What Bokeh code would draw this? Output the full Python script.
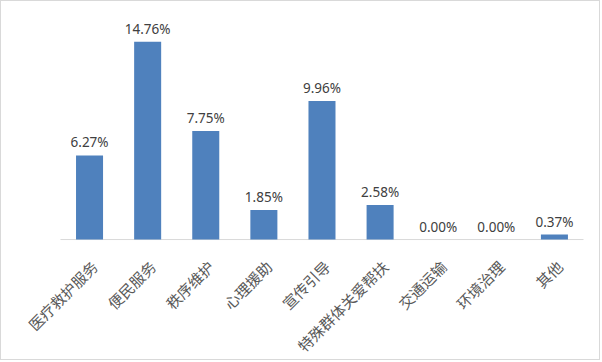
import math
from bokeh.plotting import figure
from bokeh.models import ColumnDataSource, Range1d
from bokeh.core.properties import value
from bokeh.embed import file_html
from bokeh.resources import INLINE

categories = ["医疗救护服务", "便民服务", "秩序维护", "心理援助", "宣传引导",
              "特殊群体关爱帮扶", "交通运输", "环境治理", "其他"]
# bar heights as drawn in the picture (percent)
values = [6.27, 14.76, 8.10, 2.20, 10.34, 2.58, 0.00, 0.00, 0.37]
# data labels as printed in the picture
value_labels = ["6.27%", "14.76%", "7.75%", "1.85%", "9.96%", "2.58%",
                "0.00%", "0.00%", "0.37%"]

idx = list(range(len(categories)))
source = ColumnDataSource(data=dict(x=idx, cat=categories, val=values, lab=value_labels))

p = figure(x_range=Range1d(-1.515, 8.81), y_range=Range1d(-9.10, 17.76),
           width=600, height=360, output_backend="svg", toolbar_location=None,
           min_border=0, x_axis_type=None, y_axis_type=None,
           styles={"border": "1px solid #D9D9D9"})
p.xgrid.grid_line_color = None
p.ygrid.grid_line_color = None
p.outline_line_color = None

# category axis baseline
p.segment(x0=[-0.5], x1=[len(categories) - 0.5], y0=[0], y1=[0],
          line_color="#D9D9D9", line_width=1)

p.vbar(x="x", top="val", width=0.465, source=source, fill_color="#4F81BD",
       line_color=None)

# data labels
p.text(x="x", y="val", text="lab", source=source, text_align="center",
       text_baseline="alphabetic", y_offset=-13, text_font=value("Noto Sans"),
       text_font_size="13.5px", text_color="#404040")

# category tick labels
p.text(x="x", y=0, text="cat", source=source, angle=math.pi / 4,
       text_align="right", text_baseline="middle", x_offset=5, y_offset=24,
       text_font=value("Noto Sans CJK SC"), text_font_size="15px",
       text_color="#595959")

html = file_html(p, INLINE)
html = html.replace("<body>", '<body style="margin:0">', 1)
open("out.html", "w").write(html)
